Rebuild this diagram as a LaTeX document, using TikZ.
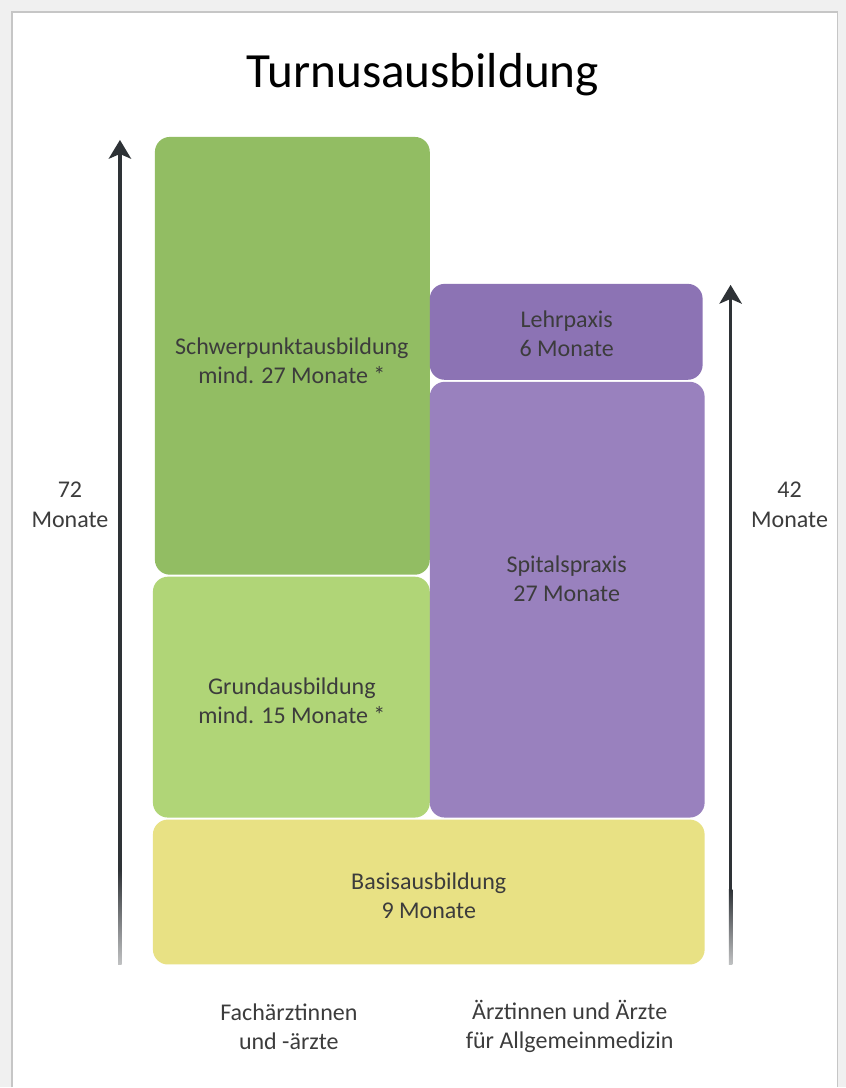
\documentclass[tikz,border=0pt]{standalone}
\usepackage{fontspec}
\setmainfont{Carlito}
\usetikzlibrary{arrows.meta, positioning, fit}

\definecolor{schwergreen}{HTML}{92BD63}
\definecolor{grundgreen}{HTML}{B0D577}
\definecolor{lehrviolet}{HTML}{8C73B4}
\definecolor{spitalviolet}{HTML}{9981BE}
\definecolor{basisyellow}{HTML}{E8E184}
\definecolor{arrowgray}{HTML}{2E3236}
\definecolor{textgray}{HTML}{3C3C3C}

\tikzset{
  phase/.style={rounded corners=0.45cm, inner sep=0pt},
  caption/.style={align=center, text=textgray, font=\fontsize{20.5}{25}\selectfont},
  axis/.style={arrowgray, line width=3pt, -{Stealth[length=16pt, width=19pt, inset=4pt]}}
}

\begin{document}
\begin{tikzpicture}[x=0.03cm, y=-0.03cm]
  % page with its grey edge
  \fill[gray!12] (0,0) rectangle (846,1088);
  \fill[white] (12,12) rectangle (838,1088);
  \draw[gray!45, line width=1pt] (12,1088) -- (12,12) -- (838,12) -- (838,1088);
  \useasboundingbox (0,0) rectangle (846,1088);

  \node[font=\fontsize{42}{48}\selectfont] (title) at (423,75) {Turnusausbildung};

  % Fachaerzte column
  \node[phase, fill=schwergreen, fit={(155,137) (430,575)}] (schwer) {};
  \node[caption] (schwertext) at (292,361) {Schwerpunktausbildung\\mind. 27 Monate *};
  \node[phase, fill=grundgreen, fit={(153,577) (430,818)}] (grund) {};
  \node[caption] (grundtext) at (292,701) {Grundausbildung\\mind. 15 Monate *};

  % Allgemeinmedizin column
  \node[phase, fill=lehrviolet, fit={(430,284) (703,380)}] (lehr) {};
  \node[caption] (lehrtext) at (567,334) {Lehrpaxis\\6 Monate};
  \node[phase, fill=spitalviolet, fit={(430,382) (705,818)}] (spital) {};
  \node[caption] (spitaltext) at (567,579) {Spitalspraxis\\27 Monate};

  \node[phase, fill=basisyellow, fit={(153,820) (705,965)}] (basis) {};
  \node[caption] (basistext) at (429,896) {Basisausbildung\\9 Monate};

  % duration axes, fading out at the bottom
  \coordinate (lbot) at (120,965);
  \coordinate (lfade) at (120,870);
  \coordinate (ltop) at (120,140);
  \coordinate (rbot) at (731,965);
  \coordinate (rfade) at (731,890);
  \coordinate (rtop) at (731,285);
  \shade[bottom color=arrowgray!30, top color=arrowgray]
    ([xshift=-1.5pt]lbot) rectangle ([xshift=1.5pt]lfade);
  \draw[axis] (lfade) -- (ltop);
  \shade[bottom color=arrowgray!30, top color=arrowgray]
    ([xshift=-1.5pt]rbot) rectangle ([xshift=1.5pt]rfade);
  \draw[axis] (rfade) -- (rtop);

  \node[caption] (left total) at (70,505) {72\\Monate};
  \node[caption] (right total) at (790,505) {42\\Monate};

  \node[caption] (fach) at (289,1027) {Fachärztinnen\\und -ärzte};
  \node[caption] (allg) at (570,1027) {Ärztinnen und Ärzte\\für Allgemeinmedizin};
\end{tikzpicture}
\end{document}
